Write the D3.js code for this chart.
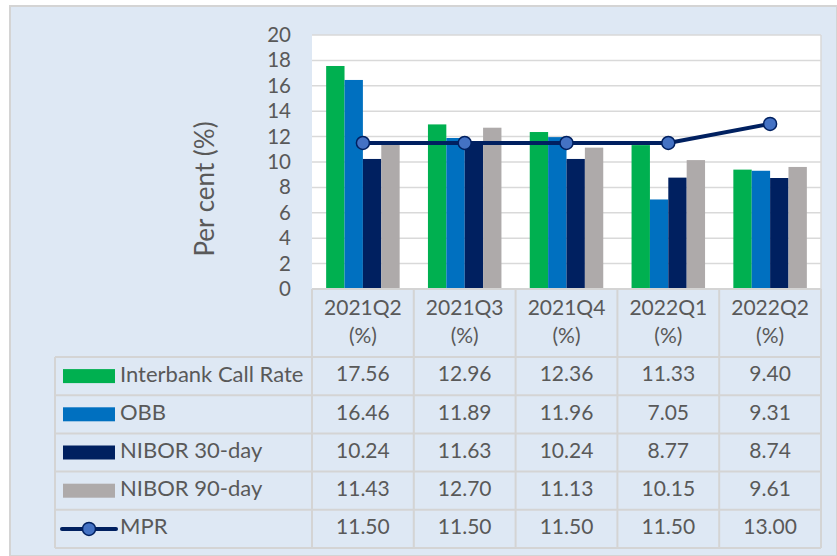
<!DOCTYPE html>
<html>
<head>
<meta charset="utf-8">
<script src="https://cdn.jsdelivr.net/npm/d3@7"></script>
<style>
  body { margin: 0; background: #fff; }
  text { font-family: Lato, "Open Sans", sans-serif; fill: #595959; }
</style>
</head>
<body>
<div id="chart"></div>
<script>
// data
const quarters = ["2021Q2", "2021Q3", "2021Q4", "2022Q1", "2022Q2"]
const seriesNames = ["Interbank Call Rate", "OBB", "NIBOR 30-day", "NIBOR 90-day"]
const interbank = [17.56, 12.96, 12.36, 11.33, 9.40]
const obb = [16.46, 11.89, 11.96, 7.05, 9.31]
const nibor30 = [10.24, 11.63, 10.24, 8.77, 8.74]
const nibor90 = [11.43, 12.70, 11.13, 10.15, 9.61]
const mpr = [11.50, 11.50, 11.50, 11.50, 13.00]
const yTicks = [0, 2, 4, 6, 8, 10, 12, 14, 16, 18, 20]

const colors = ["#00b050", "#0070c0", "#002060", "#aeaaaa"]
const barValues = [interbank, obb, nibor30, nibor90]

const W = 837, H = 556
const plot = { left: 312, right: 821, top: 35, bottom: 289 }

const svg = d3.select("#chart").append("svg")
    .attr("width", W)
    .attr("height", H)

// panel background
svg.append("rect")
    .attr("x", 10).attr("y", 6)
    .attr("width", W - 10).attr("height", H - 6)
    .style("fill", "#dee8f4")
    .style("stroke", "#d4d4d4")
    .style("stroke-width", 2)

// white plot area
svg.append("rect")
    .attr("x", plot.left).attr("y", plot.top)
    .attr("width", plot.right - plot.left).attr("height", plot.bottom - plot.top)
    .style("fill", "#fff")

// scales
const x0 = d3.scaleBand()
    .domain(quarters)
    .range([plot.left, plot.right])

const x1 = d3.scaleBand()
    .domain(seriesNames)
    .range([0, x0.bandwidth()])
    .paddingOuter(0.77)

const y = d3.scaleLinear()
    .domain([0, 20])
    .range([plot.bottom, plot.top])

// horizontal gridlines
svg.selectAll("line.grid")
    .data(yTicks)
    .enter()
    .append("line")
    .attr("class", "grid")
    .attr("x1", plot.left)
    .attr("x2", plot.right)
    .attr("y1", d => y(d))
    .attr("y2", d => y(d))
    .style("stroke", "#d9d9d9")
    .style("stroke-width", 1.5)

// right edge of plot
svg.append("line")
    .attr("x1", plot.right).attr("x2", plot.right)
    .attr("y1", plot.top).attr("y2", plot.bottom)
    .style("stroke", "#d9d9d9")
    .style("stroke-width", 1.5)

// bars
const barData = []
quarters.forEach((q, i) => {
    seriesNames.forEach((s, j) => {
        barData.push({ q: q, s: s, v: barValues[j][i], c: colors[j] })
    })
})

svg.selectAll(".bar")
    .data(barData)
    .enter()
    .append("rect")
    .attr("class", "bar")
    .attr("x", d => x0(d.q) + x1(d.s))
    .attr("y", d => y(d.v))
    .attr("width", x1.bandwidth())
    .attr("height", d => y(0) - y(d.v))
    .style("fill", d => d.c)

// MPR line
const line = d3.line()
    .x((d, i) => x0(quarters[i]) + x0.bandwidth() / 2)
    .y(d => y(d))

svg.append("path")
    .datum(mpr)
    .attr("d", line)
    .style("fill", "none")
    .style("stroke", "#002060")
    .style("stroke-width", 4)

svg.selectAll(".marker")
    .data(mpr)
    .enter()
    .append("circle")
    .attr("class", "marker")
    .attr("cx", (d, i) => x0(quarters[i]) + x0.bandwidth() / 2)
    .attr("cy", d => y(d))
    .attr("r", 6.5)
    .style("fill", "#4472c4")
    .style("stroke", "#002060")
    .style("stroke-width", 1.5)

// y axis
const yAxis = d3.axisLeft(y)
    .tickValues(yTicks)
    .tickSize(0)
    .tickPadding(0)

svg.append("g")
    .attr("class", "y-axis")
    .attr("transform", "translate(291,0)")
    .call(yAxis)
    .call(g => g.select(".domain").remove())
    .selectAll("text")
    .style("font-size", "20.5px")
    .style("font-family", "Lato, sans-serif")
    .style("fill", "#595959")

// y axis label
svg.append("text")
    .text("Per cent (%)")
    .attr("transform", "translate(207,189) rotate(-90)")
    .attr("text-anchor", "middle")
    .attr("dominant-baseline", "middle")
    .style("font-size", "26px")

// data table
const tableTop = plot.bottom
const headerBottom = 357
const tableBottom = 548
const legendLeft = 55

const rowNames = seriesNames.concat(["MPR"])
const rowValues = barValues.concat([mpr])

const rowY = d3.scaleBand()
    .domain(rowNames)
    .range([headerBottom, tableBottom])

const gridStyle = sel => sel.style("stroke", "#d4d4d4").style("stroke-width", 2)

// vertical lines in the table
const colEdges = quarters.map(q => x0(q)).concat([plot.right])
svg.selectAll("line.tcol")
    .data(colEdges)
    .enter()
    .append("line")
    .attr("class", "tcol")
    .attr("x1", d => d).attr("x2", d => d)
    .attr("y1", tableTop).attr("y2", tableBottom)
    .call(gridStyle)

svg.append("line")
    .attr("x1", legendLeft).attr("x2", legendLeft)
    .attr("y1", headerBottom).attr("y2", tableBottom)
    .call(gridStyle)

// horizontal lines in the table
svg.append("line")
    .attr("x1", plot.left).attr("x2", plot.right)
    .attr("y1", tableTop).attr("y2", tableTop)
    .call(gridStyle)

const rowEdges = rowNames.map(r => rowY(r)).concat([tableBottom])
svg.selectAll("line.trow")
    .data(rowEdges)
    .enter()
    .append("line")
    .attr("class", "trow")
    .attr("x1", legendLeft).attr("x2", plot.right)
    .attr("y1", d => d).attr("y2", d => d)
    .call(gridStyle)

// header labels
const headers = svg.selectAll(".header")
    .data(quarters)
    .enter()
    .append("g")
    .attr("class", "header")
    .attr("transform", d => "translate(" + (x0(d) + x0.bandwidth() / 2) + ",0)")

headers.append("text")
    .text(d => d)
    .attr("y", 310)
    .attr("text-anchor", "middle")
    .attr("dominant-baseline", "middle")
    .style("font-size", "21px")

headers.append("text")
    .text("(%)")
    .attr("y", 338)
    .attr("text-anchor", "middle")
    .attr("dominant-baseline", "middle")
    .style("font-size", "21px")

// legend keys and row names
const rows = svg.selectAll(".trowg")
    .data(rowNames)
    .enter()
    .append("g")
    .attr("class", "trowg")
    .attr("transform", d => "translate(0," + (rowY(d) + rowY.bandwidth() / 2) + ")")

rows.filter((d, i) => i < 4)
    .append("rect")
    .attr("x", 63)
    .attr("y", -7)
    .attr("width", 52)
    .attr("height", 14)
    .style("fill", (d, i) => colors[i])

const mprRow = rows.filter(d => d === "MPR")
mprRow.append("line")
    .attr("x1", 62).attr("x2", 116)
    .attr("y1", 0).attr("y2", 0)
    .style("stroke", "#002060")
    .style("stroke-width", 4)
    .style("stroke-linecap", "round")
mprRow.append("circle")
    .attr("cx", 89).attr("cy", 0)
    .attr("r", 6.5)
    .style("fill", "#4472c4")
    .style("stroke", "#002060")
    .style("stroke-width", 1.5)

rows.append("text")
    .text(d => d)
    .attr("x", 120)
    .attr("dominant-baseline", "middle")
    .style("font-size", "22px")

// values
rows.each(function(name, i) {
    d3.select(this).selectAll(".val")
        .data(rowValues[i])
        .enter()
        .append("text")
        .attr("class", "val")
        .text(d => d.toFixed(2))
        .attr("x", (d, k) => x0(quarters[k]) + x0.bandwidth() / 2)
        .attr("text-anchor", "middle")
        .attr("dominant-baseline", "middle")
        .style("font-size", "21px")
})
</script>
</body>
</html>
